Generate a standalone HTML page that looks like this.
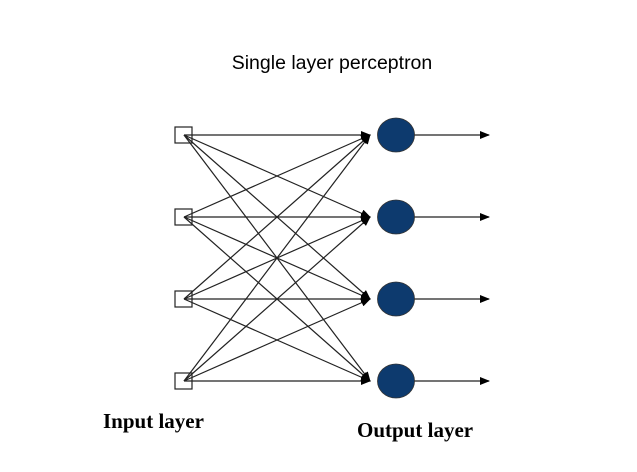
<!DOCTYPE html>
<html><head><style>body{margin:0;background:#fff}</style></head><body>
<svg width="637" height="467" xmlns="http://www.w3.org/2000/svg">
<defs><marker id="a" markerWidth="10" markerHeight="8" refX="9" refY="4" orient="auto" markerUnits="userSpaceOnUse"><path d="M0,0 L10,4 L0,8 z" fill="#000"/></marker></defs>
<text x="332" y="69" font-family="Liberation Sans, sans-serif" font-size="19.5" text-anchor="middle">Single layer perceptron</text>
<g stroke="#222" stroke-width="1.2" fill="none">
<g marker-end="url(#a)">
<line x1="184" y1="135" x2="370" y2="135"/><line x1="184" y1="135" x2="370" y2="217"/><line x1="184" y1="135" x2="370" y2="299"/><line x1="184" y1="135" x2="370" y2="381"/>
<line x1="184" y1="217" x2="370" y2="135"/><line x1="184" y1="217" x2="370" y2="217"/><line x1="184" y1="217" x2="370" y2="299"/><line x1="184" y1="217" x2="370" y2="381"/>
<line x1="184" y1="299" x2="370" y2="135"/><line x1="184" y1="299" x2="370" y2="217"/><line x1="184" y1="299" x2="370" y2="299"/><line x1="184" y1="299" x2="370" y2="381"/>
<line x1="184" y1="381" x2="370" y2="135"/><line x1="184" y1="381" x2="370" y2="217"/><line x1="184" y1="381" x2="370" y2="299"/><line x1="184" y1="381" x2="370" y2="381"/>
<line x1="414" y1="135" x2="489" y2="135"/><line x1="414" y1="217" x2="489" y2="217"/><line x1="414" y1="299" x2="489" y2="299"/><line x1="414" y1="381" x2="489" y2="381"/>
</g>
<g fill="#fff" fill-opacity="0">
<rect x="175" y="127" width="17" height="16"/><rect x="175" y="209" width="17" height="16"/><rect x="175" y="291" width="17" height="16"/><rect x="175" y="373" width="17" height="16"/>
</g>
</g>
<g fill="#0d3a6e" stroke="#333" stroke-width="0.8">
<ellipse cx="396" cy="135" rx="18.5" ry="17"/><ellipse cx="396" cy="217" rx="18.5" ry="17"/><ellipse cx="396" cy="299" rx="18.5" ry="17"/><ellipse cx="396" cy="381" rx="18.5" ry="17"/>
</g>
<text x="103" y="428" font-family="Liberation Serif, serif" font-weight="bold" font-size="21">Input layer</text>
<text x="357" y="437" font-family="Liberation Serif, serif" font-weight="bold" font-size="21">Output layer</text>
</svg>
</body></html>
